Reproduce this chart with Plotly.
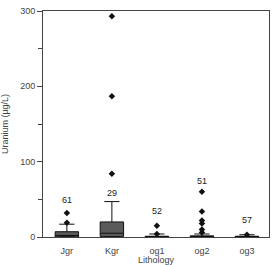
import plotly.graph_objects as go

categories = ["Jgr", "Kgr", "og1", "og2", "og3"]
q1 = [0, 0.5, 0, 0, 0]
median = [2, 5, 0.5, 0.5, 0.5]
q3 = [7, 20, 1, 1.5, 1]
lower = [0, 0, 0, 0, 0]
upper = [17, 47, 4, 4, 3]
outliers = {
    "Jgr": [19, 32],
    "Kgr": [84, 187, 293],
    "og1": [4, 15],
    "og2": [6, 10, 18, 22, 34, 60],
    "og3": [3],
}
counts = [61, 29, 52, 51, 57]
label_y = [49, 58, 34, 74, 22]

font = "Liberation Sans, Arial, sans-serif"
fig = go.Figure()
fig.add_trace(go.Box(
    x=categories, q1=q1, median=median, q3=q3,
    lowerfence=lower, upperfence=upper,
    fillcolor="#5a5a5a", line=dict(color="#111111", width=1),
    width=0.52, whiskerwidth=0.65, boxpoints=False, showlegend=False,
))
ox, oy = [], []
for c in categories:
    for v in outliers[c]:
        ox.append(c)
        oy.append(v)
fig.add_trace(go.Scatter(
    x=ox, y=oy, mode="markers",
    marker=dict(symbol="diamond", size=5, color="#111111"),
    showlegend=False,
))
for c, n, yv in zip(categories, counts, label_y):
    fig.add_annotation(x=c, y=yv, text=str(n), showarrow=False,
                       font=dict(family=font, size=9, color="#222222"))

fig.update_layout(
    width=275, height=265,
    margin=dict(l=43, r=6, t=11, b=28),
    paper_bgcolor="white", plot_bgcolor="white",
    font=dict(family=font, size=8, color="#444444"),
)
fig.update_xaxes(
    range=[-0.53, 4.49], showgrid=False, zeroline=False,
    showline=True, linecolor="#444444", linewidth=1, mirror=True,
    ticks="", tickfont=dict(size=9), ticklabelstandoff=5,
    title=dict(text="Lithology", font=dict(size=9), standoff=3),
    automargin=False,
)
fig.update_yaxes(
    range=[0, 300], dtick=100, showgrid=False, zeroline=False,
    showline=True, linecolor="#444444", linewidth=1, mirror=True,
    ticks="outside", ticklen=5, tickcolor="#444444",
    minor=dict(dtick=50, ticks="outside", ticklen=4, tickcolor="#444444"),
    tickfont=dict(size=9),
    title=dict(text="Uranium (µg/L)", font=dict(size=9), standoff=17),
    automargin=False,
)
fig.write_html("out.html")
